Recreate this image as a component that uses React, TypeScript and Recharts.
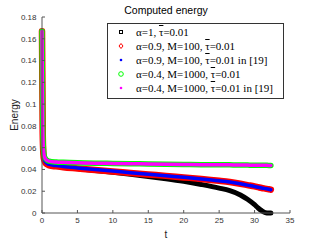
import React from "react";
import { LineChart, Line, XAxis, YAxis, Label } from "recharts";

// time samples (t)
const tValues = [0, 0.1, 0.2, 0.3, 0.5, 0.75, 1, 2, 3, 5, 7.5, 10, 12.5, 15, 17.5, 20, 22.5, 25, 26.5, 28, 29, 30, 30.5, 31, 31.5, 32, 32.3];

// alpha=1
const energyA1 = [0.167, 0.075, 0.055, 0.05, 0.047, 0.0455, 0.0445, 0.0433, 0.0423, 0.0408, 0.039, 0.0374, 0.0355, 0.0336, 0.0315, 0.0291, 0.0262, 0.0229, 0.0205, 0.0166, 0.0126, 0.0076, 0.0046, 0.0021, 0.0004, 0, 0];
// alpha=0.9 (ours)
const energyA09 = [0.167, 0.074, 0.054, 0.049, 0.046, 0.0447, 0.0437, 0.0428, 0.042, 0.0409, 0.0395, 0.0382, 0.0368, 0.0354, 0.0341, 0.0327, 0.0313, 0.0296, 0.0284, 0.0268, 0.0256, 0.0244, 0.0237, 0.023, 0.0224, 0.0218, 0.0214];
// alpha=0.9 in [19]
const energyA09Ref = [0.167, 0.075, 0.055, 0.05, 0.0468, 0.0455, 0.0446, 0.0435, 0.0427, 0.0414, 0.0399, 0.0385, 0.037, 0.0356, 0.0342, 0.0328, 0.0313, 0.0296, 0.0284, 0.0268, 0.0256, 0.0244, 0.0237, 0.023, 0.0224, 0.0218, 0.0214];
// alpha=0.4 (ours)
const energyA04 = [0.167, 0.08, 0.059, 0.053, 0.0498, 0.0483, 0.0476, 0.0468, 0.0465, 0.0461, 0.0458, 0.0455, 0.0453, 0.045, 0.0448, 0.0446, 0.0444, 0.0443, 0.0442, 0.0441, 0.044, 0.0439, 0.0439, 0.0438, 0.0438, 0.0437, 0.0437];
// alpha=0.4 in [19]
const energyA04Ref = [0.167, 0.08, 0.059, 0.053, 0.0498, 0.0483, 0.0476, 0.0468, 0.0465, 0.0461, 0.0458, 0.0455, 0.0453, 0.045, 0.0448, 0.0446, 0.0444, 0.0443, 0.0442, 0.0441, 0.044, 0.0439, 0.0439, 0.0438, 0.0438, 0.0437, 0.0437];

const xTicks = [0, 5, 10, 15, 20, 25, 30, 35];
const yTicks = [0, 0.02, 0.04, 0.06, 0.08, 0.1, 0.12, 0.14, 0.16, 0.18];

const data = tValues.map((t, i) => ({
  t,
  a1: energyA1[i],
  a09: energyA09[i],
  a09ref: energyA09Ref[i],
  a04: energyA04[i],
  a04ref: energyA04Ref[i],
}));

const series = [
  { key: "a1", color: "#000000", width: 5, marker: "square", label: ["α=1, ", "0.01", ""] },
  { key: "a09", color: "#ff0000", width: 6.5, marker: "diamond", label: ["α=0.9, M=100, ", "0.01", ""] },
  { key: "a09ref", color: "#0000ff", width: 3.5, marker: "dot", label: ["α=0.9, M=100, ", "0.01", " in [19]"] },
  { key: "a04", color: "#00ff00", width: 5.5, marker: "circle", label: ["α=0.4, M=1000, ", "0.01", ""] },
  { key: "a04ref", color: "#ff00ff", width: 3.5, marker: "dot", label: ["α=0.4, M=1000, ", "0.01", " in [19]"] },
];

const sans = "'Liberation Sans', Arial, sans-serif";
const serif = "'Liberation Serif', 'Times New Roman', serif";
const tickStyle = { fontSize: 8, fill: "#333", fontFamily: sans };

function Marker({ type, color }: { type: string; color: string }) {
  return (
    <svg width={8} height={8} style={{ display: "block" }}>
      {type === "square" && <rect x={2.5} y={2.5} width={3} height={3} fill="none" stroke={color} strokeWidth={1} />}
      {type === "diamond" && <polygon points="4,1.5 6,4 4,6.5 2,4" fill="none" stroke={color} strokeWidth={1} />}
      {type === "circle" && <circle cx={4} cy={4} r={2.3} fill="none" stroke={color} strokeWidth={1} />}
      {type === "dot" && <circle cx={4} cy={4} r={1.3} fill={color} />}
    </svg>
  );
}

export default function App() {
  return (
    <div style={{ position: "absolute", left: 0, top: 0, width: 321, height: 241, background: "#fff" }}>
      <div style={{ position: "absolute", left: 42, width: 248, top: 4, textAlign: "center", fontFamily: sans, fontSize: 10.5, color: "#000", lineHeight: "12px" }}>
        Computed energy
      </div>
      <LineChart width={321} height={241} data={data} margin={{ top: 17, right: 31, left: 0, bottom: 0 }}>
        <XAxis
          dataKey="t"
          type="number"
          domain={[0, 35]}
          ticks={xTicks}
          tick={tickStyle}
          tickSize={-3}
          tickMargin={7}
          height={28}
          stroke="#555"
          interval={0}
        >
          <Label value="t" position="insideBottom" offset={3} style={{ fontSize: 10, fill: "#222", fontFamily: sans }} />
        </XAxis>
        <XAxis xAxisId="top" orientation="top" dataKey="t" type="number" domain={[0, 35]} ticks={xTicks} tick={false} tickSize={-3} height={0} stroke="#555" />
        <YAxis
          type="number"
          domain={[0, 0.18]}
          ticks={yTicks}
          tick={tickStyle}
          tickFormatter={(v: number) => String(Number(v.toFixed(2)))}
          tickSize={-3}
          tickMargin={8.5}
          width={42}
          stroke="#555"
          interval={0}
        >
          <Label value="Energy" angle={-90} position="center" dx={-7} style={{ fontSize: 10, fill: "#222", fontFamily: sans }} />
        </YAxis>
        <YAxis yAxisId="right" orientation="right" type="number" domain={[0, 0.18]} ticks={yTicks} tick={false} tickSize={-3} width={0} stroke="#555" />
        {series.map((s) => (
          <Line
            key={s.key}
            dataKey={s.key}
            type="monotone"
            stroke={s.color}
            strokeWidth={s.width}
            strokeLinecap="round"
            strokeLinejoin="round"
            dot={false}
            isAnimationActive={false}
          />
        ))}
      </LineChart>
      <div
        style={{
          position: "absolute",
          left: 107,
          top: 23,
          width: 175,
          height: 74,
          border: "1px solid #333",
          background: "#fff",
          fontFamily: serif,
          fontSize: 11,
          color: "#000",
        }}
      >
        {series.map((s, i) => (
          <div key={s.key} style={{ position: "absolute", left: 9, top: 1 + i * 14, height: 14, display: "flex", alignItems: "center", whiteSpace: "nowrap" }}>
            <Marker type={s.marker} color={s.color} />
            <span style={{ marginLeft: 11 }}>
              {s.label[0]}
              <span style={{ textDecoration: "overline" }}>τ</span>={s.label[1]}
              {s.label[2]}
            </span>
          </div>
        ))}
      </div>
    </div>
  );
}
